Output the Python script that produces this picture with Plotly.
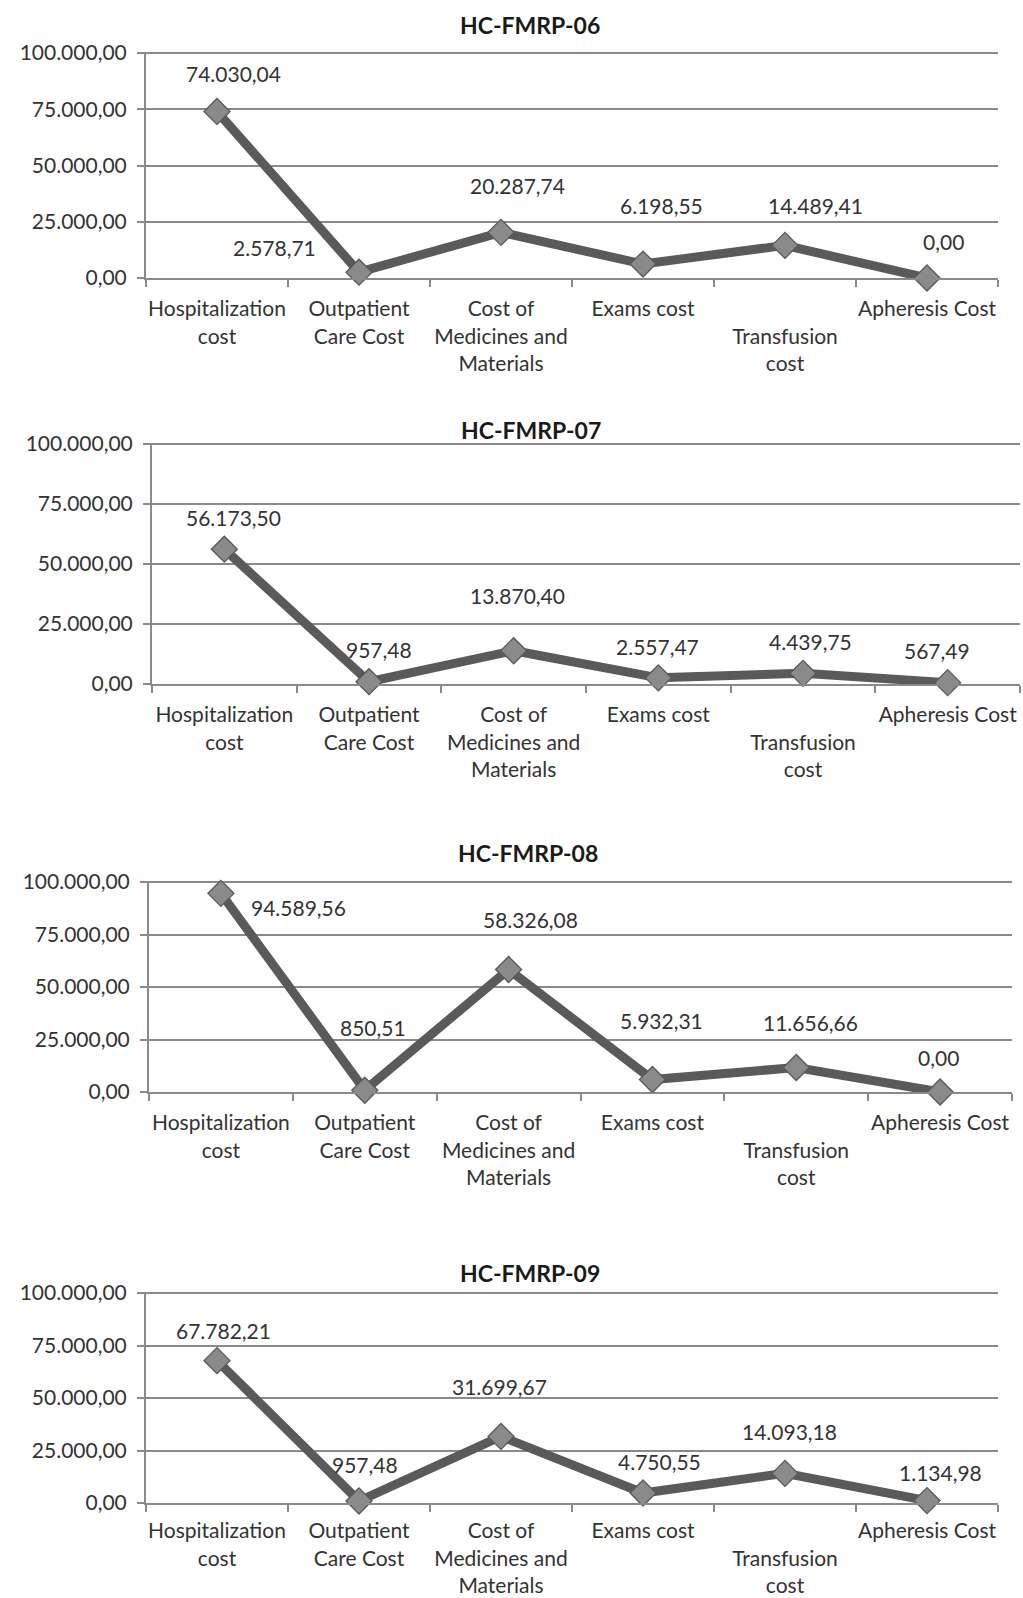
import plotly.graph_objects as go

# Cost categories (x axis); "Transfusion cost" sits on the second label row
categories = ["Hospitalization cost", "Outpatient Care Cost", "Cost of Medicines and Materials",
              "Exams cost", "Transfusion cost", "Apheresis Cost"]
category_ticktext = ["Hospitalization<br>cost", "Outpatient<br>Care Cost", "Cost of<br>Medicines and<br>Materials",
                     "Exams cost", " <br>Transfusion<br>cost", "Apheresis Cost"]

panel_titles = ["HC-FMRP-06", "HC-FMRP-07", "HC-FMRP-08", "HC-FMRP-09"]

# Cost per category for each patient
costs_06 = [74030.04, 2578.71, 20287.74, 6198.55, 14489.41, 0.00]
costs_07 = [56173.50, 957.48, 13870.40, 2557.47, 4439.75, 567.49]
costs_08 = [94589.56, 850.51, 58326.08, 5932.31, 11656.66, 0.00]
costs_09 = [67782.21, 957.48, 31699.67, 4750.55, 14093.18, 1134.98]

y_tickvals = [0, 25000, 50000, 75000, 100000]
Y_MAX = 100000
Y_PAD = 1.006  # a little headroom so the top gridline is not clipped

# Layout of each panel in pixels: plot left, right, top (100k line), bottom (0 line),
# title centre (x, y), gap between x axis and its labels
W, H = 1023, 1598
panel_boxes = [
    (146, 998, 53, 278, 530, 25, 11),
    (152, 1020, 444, 684, 531, 430, 11),
    (149, 1012, 882, 1092, 528, 853, 11),
    (146, 998, 1293, 1503, 530, 1273, 8),
]

# Data-label offsets in pixels (dx right, dy down) relative to each marker
label_offsets = [
    [(16, -38), (-85, -25), (16, -47), (18, -59), (30, -40), (16, -36)],
    [(9, -32), (10, -32), (4, -55), (-1, -31), (7, -32), (-11, -32)],
    [(78, 14), (8, -63), (22, -50), (9, -59), (14, -45), (-2, -35)],
    [(6, -30), (6, -36), (-2, -50), (16, -32), (4.5, -42), (13, -28)],
]


def br_number(v):
    s = f"{v:,.2f}"
    return s.replace(",", "X").replace(".", ",").replace("X", ".")


FONT = "Lato"
TEXT_COLOR = "#333333"
GRID_COLOR = "#8a8a8a"
LINE_COLOR = "#5a5a5a"

fig = go.Figure()
series = [costs_06, costs_07, costs_08, costs_09]
annotations = []

for i, (vals, box, offs, title) in enumerate(zip(series, panel_boxes, label_offsets, panel_titles)):
    left, right, top, bottom, tx, ty, xgap = box
    n = "" if i == 0 else str(i + 1)
    xa, ya = "xaxis" + n, "yaxis" + n
    xr, yr = "x" + n, "y" + n
    top_px = bottom - (bottom - top) * Y_PAD

    fig.add_trace(go.Scatter(
        x=categories, y=vals, xaxis=xr, yaxis=yr, mode="lines+markers",
        line=dict(color=LINE_COLOR, width=9),
        marker=dict(symbol="diamond", size=20, color="#8a8a8a",
                    line=dict(color="#595959", width=1.3)),
        hoverinfo="skip", showlegend=False, cliponaxis=False,
    ))

    fig.layout[xa] = dict(
        domain=[left / W, right / W], anchor=yr, type="category",
        categoryorder="array", categoryarray=categories,
        tickvals=categories, ticktext=category_ticktext,
        range=[-0.5, len(categories) - 0.5], tickson="boundaries",
        ticks="outside", ticklen=7, tickwidth=2, tickcolor=GRID_COLOR,
        showline=True, linecolor=GRID_COLOR, linewidth=2, showgrid=False,
        tickfont=dict(family=FONT, size=21, color=TEXT_COLOR), tickangle=0,
        ticklabelstandoff=xgap, automargin=False, fixedrange=True,
    )
    fig.layout[ya] = dict(
        domain=[1 - bottom / H, 1 - top_px / H], anchor=xr,
        range=[0, Y_MAX * Y_PAD], tickvals=y_tickvals, tickformat=",.2f",
        ticks="outside", ticklen=7, tickwidth=2, tickcolor=GRID_COLOR,
        showline=True, linecolor=GRID_COLOR, linewidth=2,
        showgrid=True, gridcolor=GRID_COLOR, gridwidth=2, zeroline=False,
        tickfont=dict(family=FONT, size=21, color=TEXT_COLOR),
        ticklabelstandoff=6, automargin=False, fixedrange=True,
    )

    for cat, v, (dx, dy) in zip(categories, vals, offs):
        annotations.append(dict(
            x=cat, y=v, xref=xr, yref=yr, text=br_number(v), showarrow=False,
            xanchor="center", yanchor="middle", xshift=dx, yshift=-dy,
            font=dict(family=FONT, size=21, color=TEXT_COLOR),
        ))

    annotations.append(dict(
        x=tx / W, y=1 - ty / H, xref="paper", yref="paper", text=f"<b>{title}</b>",
        showarrow=False, xanchor="center", yanchor="middle",
        font=dict(family=FONT, size=23, color="#1a1a1a"),
    ))

fig.update_layout(
    width=W, height=H, autosize=False,
    margin=dict(l=0, r=0, t=0, b=0, pad=0),
    paper_bgcolor="white", plot_bgcolor="white",
    separators=",.", annotations=annotations, showlegend=False,
)

fig.write_html("out.html", config={"displayModeBar": False})
